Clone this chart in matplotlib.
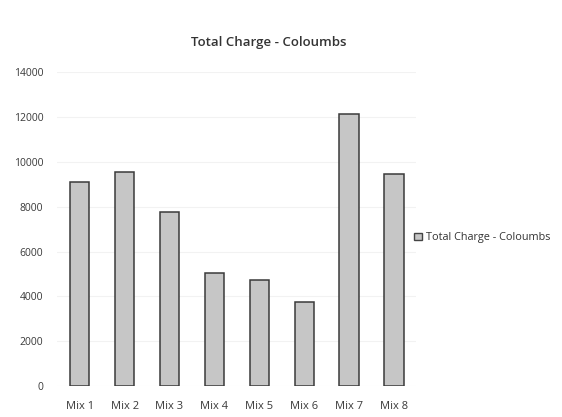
import matplotlib
matplotlib.use("Agg")
import matplotlib.pyplot as plt
from matplotlib.patches import Patch

categories = ["Mix 1", "Mix 2", "Mix 3", "Mix 4", "Mix 5", "Mix 6", "Mix 7", "Mix 8"]
values = [9100, 9550, 7750, 5050, 4750, 3750, 12150, 9450]
yticks = [0, 2000, 4000, 6000, 8000, 10000, 12000, 14000]
series_name = "Total Charge - Coloumbs"

plt.rcParams['font.family'] = ['Open Sans', 'DejaVu Sans']

fig = plt.figure(figsize=(5.62, 4.17), dpi=100)
ax = fig.add_axes([0.102, 0.074, 0.639, 0.753])

x = range(len(categories))
ax.bar(x, values, width=0.43, color="#c6c6c6", edgecolor="#3a3a3a", linewidth=1.1, zorder=3)

ax.set_ylim(0, 14000)
ax.set_xlim(-0.5, len(categories) - 0.5)
ax.set_yticks(yticks)
ax.set_yticklabels([str(v) for v in yticks], fontsize=7.5, color="#3a3a3a")
ax.set_xticks(list(x))
ax.set_xticklabels(categories, fontsize=8, color="#3a3a3a")
ax.tick_params(axis='y', length=0, pad=10)
ax.tick_params(axis='x', length=0, pad=11)
for s in ax.spines.values():
    s.set_visible(False)
ax.yaxis.grid(True, color="#f2f2f2", linewidth=0.8, zorder=0)

fig.text(0.478, 0.897, series_name, ha='center', va='center', fontsize=9.5, fontweight='semibold', color="#333333")

handle = Patch(facecolor="#c6c6c6", edgecolor="#444444", linewidth=1.0)
fig.legend([handle], [series_name], loc='center left', bbox_to_anchor=(0.72, 0.43),
           frameon=False, fontsize=7.8, handlelength=0.7, handleheight=0.7, handletextpad=0.4,
           labelcolor="#333333")

fig.savefig("out.png", dpi=100)
